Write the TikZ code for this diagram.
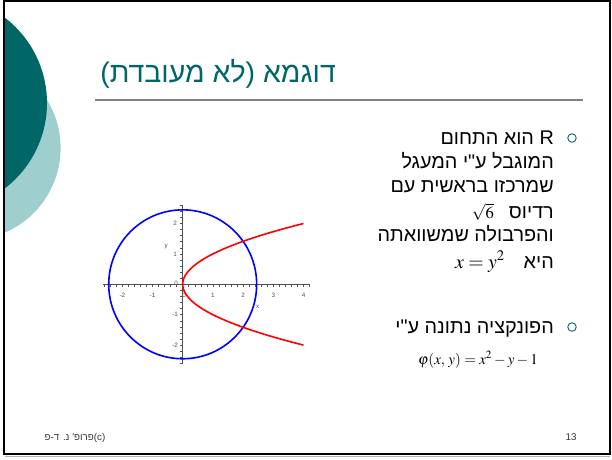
\documentclass[tikz,border=0pt]{standalone}
\usepackage{mathptmx}
\usepackage[no-math]{fontspec}
\setmainfont{Liberation Sans}
\newfontfamily\hebfont[Script=Hebrew]{Liberation Sans}
\TeXXeTstate=1
\definecolor{slideteal}{RGB}{0,102,102}
\definecolor{paleteal}{RGB}{158,206,206}
\definecolor{rulegray}{RGB}{128,128,128}
\definecolor{axisgray}{RGB}{80,80,80}
\usetikzlibrary{positioning}
\tikzset{
  titletext/.style={anchor=base east,inner sep=0pt,text=slideteal,
                    font=\hebfont\fontsize{28.5}{32}\selectfont},
  hebline/.style={anchor=base east,inner sep=0pt,
                  font=\hebfont\fontsize{19.8}{22}\selectfont},
  bulletmark/.style={circle,draw=slideteal,line width=0.9pt,
                     minimum size=8.5pt,inner sep=0pt},
  footnote/.style={anchor=base,inner sep=0pt,text=black!80,
                   font=\hebfont\fontsize{9.8}{11}\selectfont},
  ticklabel/.style={inner sep=0pt,text=axisgray,
                    font=\fontsize{6.3}{7}\selectfont},
  curve/.style={line width=1.6pt},
}
\begin{document}
\begin{tikzpicture}[x=1pt,y=-1pt]
  \useasboundingbox (0,0) rectangle (612,459);
  % slide decoration
  \begin{scope}
    \clip (4,2) rectangle (609,453);
    \fill[paleteal] (-31.4,148) circle[radius=92];
    \fill[slideteal] (-60.5,103) circle[radius=107.5];
  \end{scope}
  \draw[black!30,line width=1pt] (5,456) -- (610,456);
  \draw[line width=2pt] (3.5,1) rectangle (609.5,454);

  % title and rule
  \node[titletext] (title) at (336,82) {\beginR דוגמא (לא מעובדת)\endR};
  \coordinate (ruleL) at (95,100);
  \coordinate (ruleR) at (583,100);
  \draw[rulegray,line width=1.5pt] (ruleL) -- (ruleR);

  % first bullet
  \node[bulletmark] (bulA) at (572,138) {};
  \node[hebline] (lineA) at (554,144) {\beginR R הוא התחום\endR};
  \node[hebline] (lineB) at (554,168) {\beginR המוגבל ע"י המעגל\endR};
  \node[hebline] (lineC) at (554,192) {\beginR שמרכזו בראשית עם\endR};
  \node[hebline] (lineD) at (554,218) {\beginR רדיוס\hspace{15pt}\hbox{\fontsize{16.5}{18}\selectfont$\sqrt{6}$}\endR};
  \node[hebline] (lineE) at (554,241) {\beginR והפרבולה שמשוואתה\endR};
  \node[hebline] (lineF) at (554,268) {\beginR היא\hspace{19pt}\hbox{$x=y^{2}$}\endR};

  % second bullet
  \node[bulletmark] (bulB) at (572,327) {};
  \node[hebline] (lineG) at (554,333) {\beginR הפונקציה נתונה ע"י\endR};
  \node[anchor=base,inner sep=0pt,font=\fontsize{15}{17}\selectfont]
    (phi) at (478,364) {$\varphi(x,\,y)=x^{2}-y-1$};

  % footer
  \node[footnote] (author) at (75,440) {\beginR\beginL(c)\endL פרופ' נ. ד-פ\endR};
  \node[footnote] (pageno) at (571,440) {13};

  % plot of the region
  \begin{scope}[shift={(182.7,284.3)},x=30.2pt,y=30.4pt]
    \draw[axisgray,line width=0.6pt] (-2.65,0) -- (4.2,0);
    \draw[axisgray,line width=0.6pt] (0,-2.6) -- (0,2.6);
    \foreach \k in {-13,...,21}
      \draw[axisgray,line width=0.5pt] ({\k/5},0) -- ({\k/5},-0.1);
    \foreach \k in {-13,...,13}
      \draw[axisgray,line width=0.5pt] (-0.1,{\k/5}) -- (0,{\k/5});
    \foreach \v in {-2,-1,1,2,3,4}
      \node[ticklabel] (xl\v) at (\v,-0.36) {\v};
    \foreach \v in {-2,-1,1,2}
      \node[ticklabel] (yl\v) at (-0.25,\v) {\v};
    \node[ticklabel] (xl0) at (0.05,-0.36) {0};
    \node[ticklabel] (yl0) at (-0.22,0.04) {0};
    \node[ticklabel] (xname) at (2.48,-0.75) {x};
    \node[ticklabel] (yname) at (-0.55,1.24) {y};
    \draw[curve,blue] (0,0) circle[radius=2.449];
    \draw[curve,red] plot[domain=-2:2,samples=60,smooth] ({\x*\x},\x);
  \end{scope}
\end{tikzpicture}
\end{document}
